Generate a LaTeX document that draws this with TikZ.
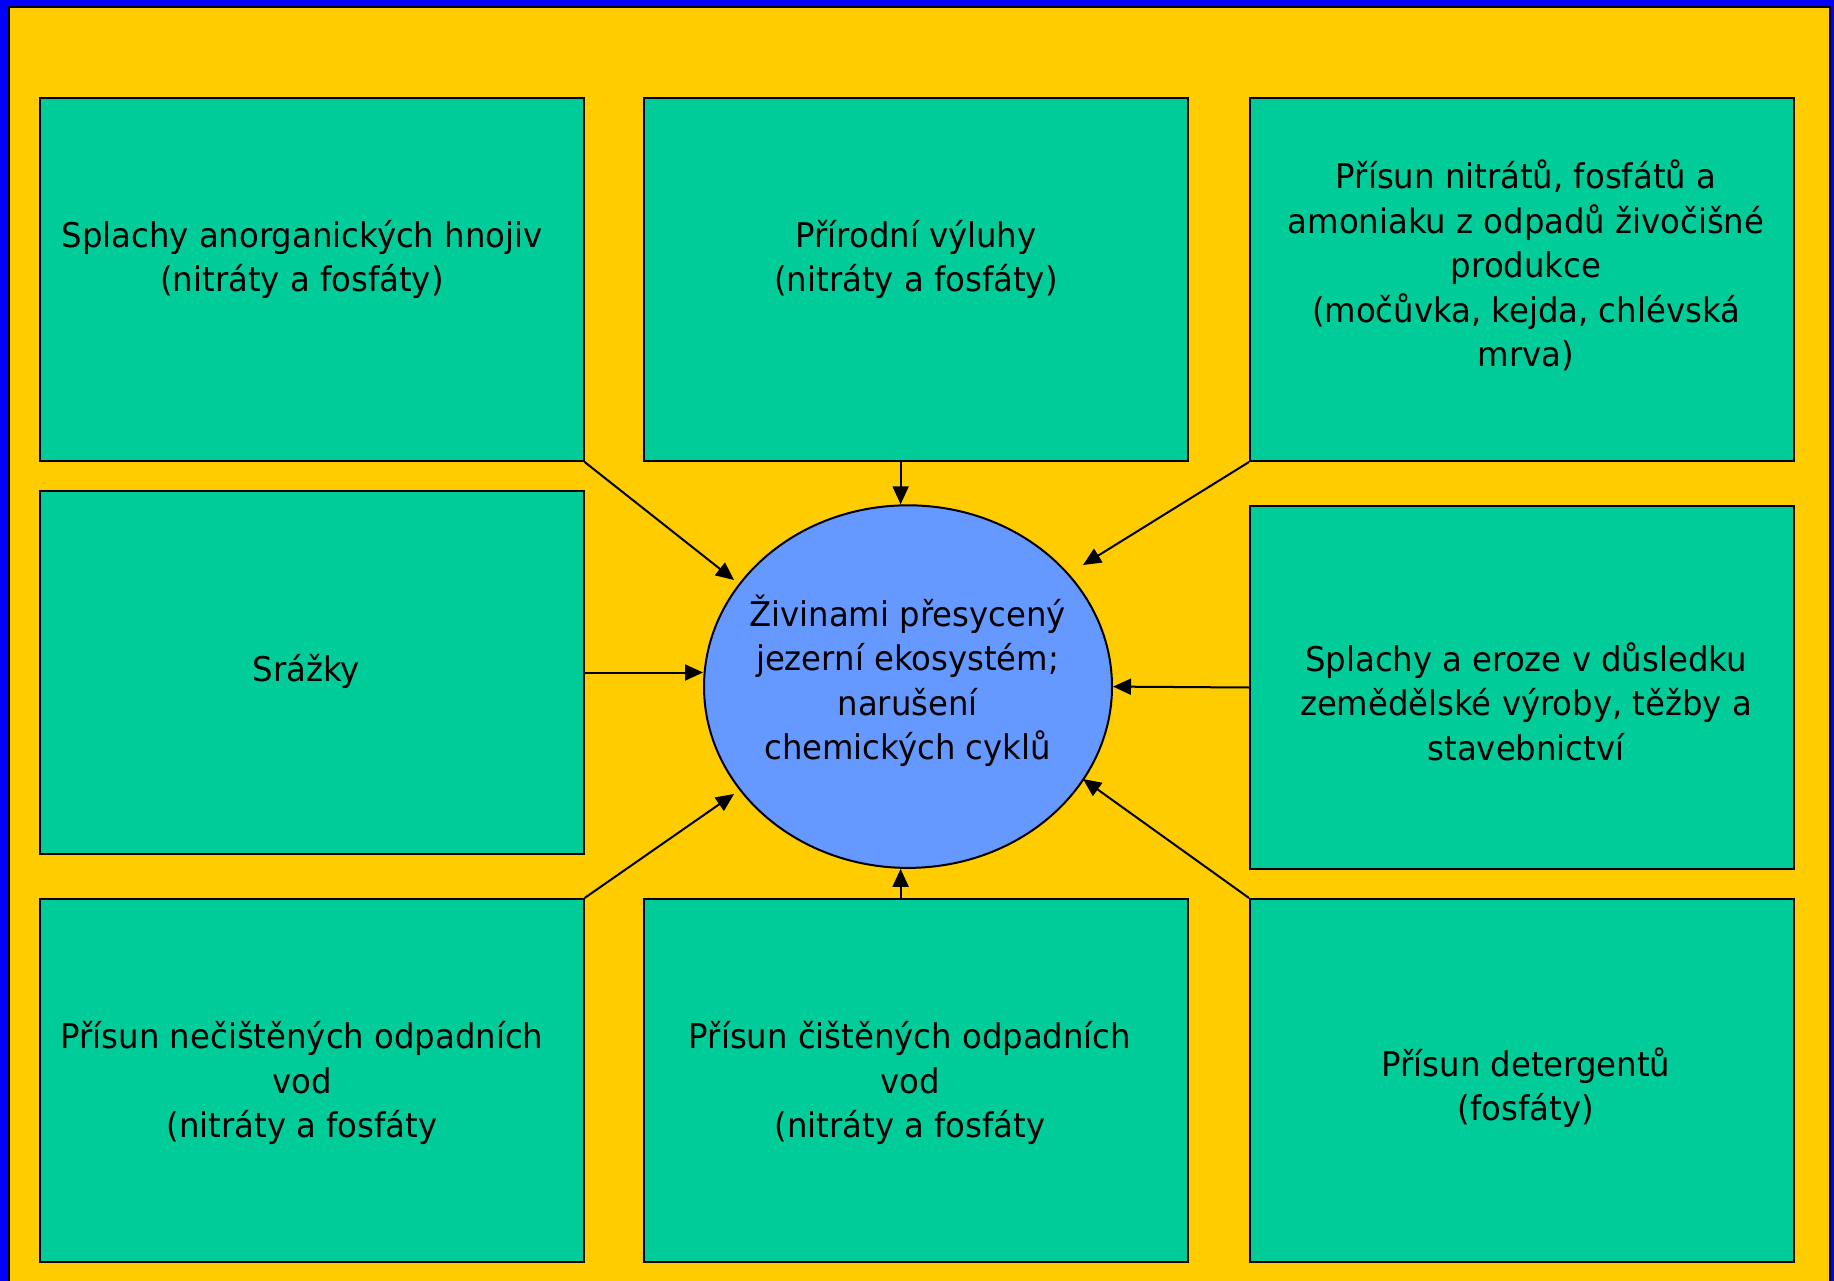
\documentclass[tikz,border=0pt]{standalone}
\usepackage{fontspec}
\setmainfont{DejaVu Sans}[FakeStretch=0.95]
\usetikzlibrary{arrows.meta,shapes.geometric,calc}
\definecolor{frameblue}{HTML}{0000FF}
\definecolor{bgyellow}{HTML}{FFCC00}
\definecolor{boxgreen}{HTML}{00CC99}
\definecolor{ellblue}{HTML}{6699FF}
\begin{document}
\begin{tikzpicture}[x=1pt,y=-1pt,
 box/.style={draw=black,line width=2pt,fill=boxgreen,minimum width=544pt,minimum height=363pt,inner sep=0pt,anchor=north west},
 txt/.style={align=center,font=\fontsize{34}{44.5}\selectfont,inner sep=0pt},
 conn/.style={line width=2pt,-{Triangle[length=18pt,width=16pt]}}]
\useasboundingbox (0,0) rectangle (1834,1281);
\clip (0,0) rectangle (1834,1281);
\fill[frameblue] (0,0) rectangle (1834,1281);
\draw[fill=bgyellow,line width=2pt] (9,7) rectangle (1830,1300);

\node[box] (b1) at (38.6,97) {};
\node[box] (b2) at (643,97) {};
\node[box] (b3) at (1249,97) {};
\node[box] (b4) at (38.6,490) {};
\node[box] (b5) at (1249,505) {};
\node[box] (b6) at (38.6,898) {};
\node[box] (b7) at (643,898) {};
\node[box] (b8) at (1249,898) {};

\node[ellipse,draw=black,line width=2pt,fill=ellblue,minimum width=408pt,minimum height=362.6pt,inner sep=0pt] (ell) at (908,686.6) {};
\node[txt] (te) at (907.6,681) {Živinami přesycený\\jezerní ekosystém;\\narušení\\chemických cyklů};

\coordinate (vx) at (900.6,0);
\coordinate (e1) at (734,580);
\coordinate (e3) at (1083,565);
\coordinate (e6) at (734,794);
\coordinate (e8) at (1083,779);

\node[txt] (t1) at (302,259.6) {Splachy anorganických hnojiv\\(nitráty a fosfáty)};
\node[txt] (t2) at (916,259.6) {Přírodní výluhy\\ (nitráty a fosfáty)};
\node[txt] (t3) at (1526,265.5) {Přísun nitrátů, fosfátů a\\amoniaku z odpadů živočišné\\produkce\\(močůvka, kejda, chlévská\\mrva)};
\node[txt] (t4) at (306.4,671.4) {Srážky};
\node[txt] (t5) at (1526,701.8) {Splachy a eroze v důsledku\\zemědělské výroby, těžby a\\stavebnictví};
\node[txt] (t6) at (302,1083) {Přísun nečištěných odpadních\\vod\\(nitráty a fosfáty};
\node[txt] (t7) at (910,1083) {Přísun čištěných odpadních\\vod\\(nitráty a fosfáty};
\node[txt] (t8) at (1526,1087.7) {Přísun detergentů\\(fosfáty)};

\draw[conn] (b1.south east) -- (e1);
\draw[conn] (b2.south -| vx) -- (ell.north -| vx);
\draw[conn] (b3.south west) -- (e3);
\draw[conn] (b4.east) -- (b4.east -| ell.west);
\draw[conn] (b5.west) -- (ell.east);
\draw[conn] (b6.north east) -- (e6);
\draw[conn] (b7.north -| vx) -- (ell.south -| vx);
\draw[conn] (b8.north west) -- (e8);
\end{tikzpicture}
\end{document}
